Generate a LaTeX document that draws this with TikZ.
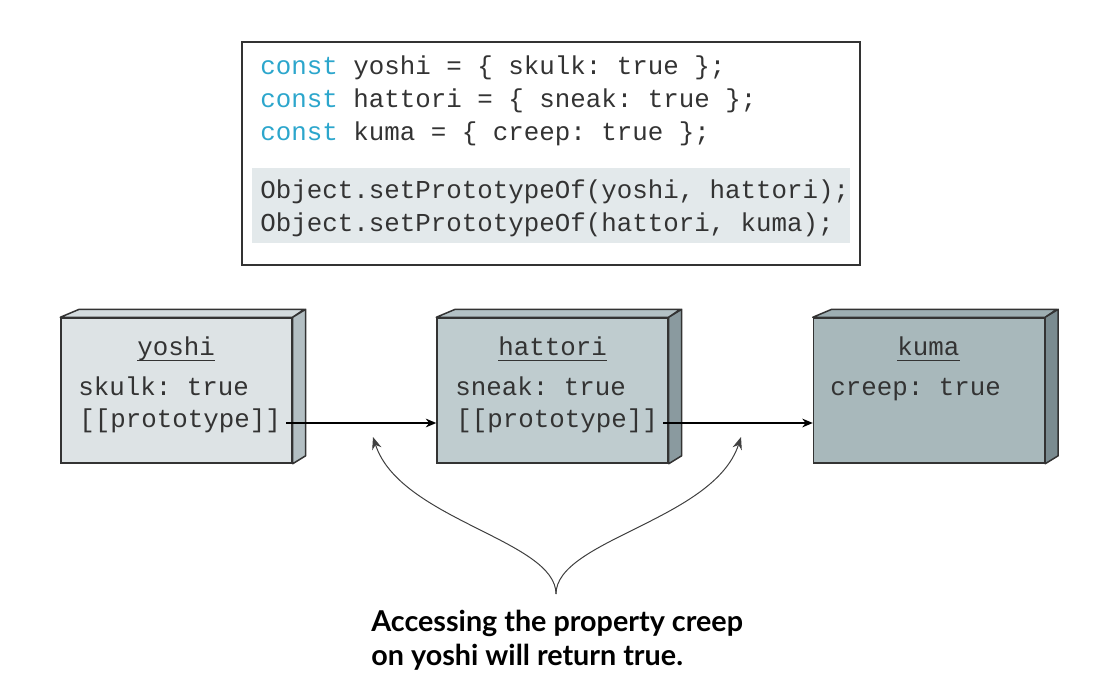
\documentclass[tikz,border=0pt]{standalone}
\usepackage{fontspec}
\setmonofont{Liberation Mono}
\newfontfamily\captionfont{Lato}
\usepackage{xcolor}
\usetikzlibrary{calc,arrows.meta}

\definecolor{keyword}{HTML}{2CA6CC}
\definecolor{codetext}{HTML}{333333}
\definecolor{codeshade}{HTML}{E3E9EB}
\definecolor{yoshifront}{HTML}{DDE3E5}
\definecolor{yoshitop}{HTML}{D3DBDE}
\definecolor{yoshiside}{HTML}{B3BFC3}
\definecolor{hattorifront}{HTML}{BFCCCF}
\definecolor{hattoritop}{HTML}{B3C1C5}
\definecolor{hattoriside}{HTML}{8A9A9F}
\definecolor{kumafront}{HTML}{A8B8BB}
\definecolor{kumatop}{HTML}{9DAEB2}
\definecolor{kumaside}{HTML}{7A8B90}

\tikzset{
  code/.style={anchor=base west, inner sep=0pt, text=codetext, font=\ttfamily\fontsize{14.7}{18}\selectfont},
  front/.style={draw=black!80, line width=.03cm, minimum width=4.62cm, minimum height=2.9cm, inner sep=0pt},
  face/.style={draw=black!80, line width=.03cm, line join=round},
  link/.style={line width=.025cm, -{Stealth[length=6pt,width=5pt]}},
}

\begin{document}
\begin{tikzpicture}[x=0.02cm, y=-0.02cm]

\useasboundingbox (0,0) rectangle (1112,682);

% code listing
\draw[line width=.03cm, black!80] (242,42) rectangle (860,265);
\fill[codeshade] (252,168) rectangle (850,243);

\node[code] (line1) at (260,75) {\textcolor{keyword}{const} yoshi = \{ skulk: true \};};
\node[code] (line2) at (260,108) {\textcolor{keyword}{const} hattori = \{ sneak: true \};};
\node[code] (line3) at (260,141) {\textcolor{keyword}{const} kuma = \{ creep: true \};};
\node[code] (line4) at (260,199) {Object.setPrototypeOf(yoshi, hattori);};
\node[code] (line5) at (260,232) {Object.setPrototypeOf(hattori, kuma);};

% yoshi
\node[front, fill=yoshifront] (yoshi) at (176.5,390.5) {};
\filldraw[face, fill=yoshitop] (yoshi.north west) -- ++(19,-8) -- ++(225,0) -- (yoshi.north east) -- cycle;
\filldraw[face, fill=yoshiside] (yoshi.north east) -- ++(13,-8) -- ([shift={(13,-8)}]yoshi.south east) -- (yoshi.south east) -- cycle;
\node[code] (yoshititle) at (137,355) {yoshi};
\draw[line width=.02cm, codetext] ([yshift=-3]yoshititle.base west) -- ([yshift=-3]yoshititle.base east);
\node[code] (yoshiprop) at (78,395) {skulk: true};
\node[code] (yoshiproto) at (79,427) {[[prototype]]};

% hattori
\node[front, fill=hattorifront] (hattori) at (552.5,390.5) {};
\filldraw[face, fill=hattoritop] (hattori.north west) -- ++(19,-8) -- ++(225,0) -- (hattori.north east) -- cycle;
\filldraw[face, fill=hattoriside] (hattori.north east) -- ++(13,-8) -- ([shift={(13,-8)}]hattori.south east) -- (hattori.south east) -- cycle;
\node[code] (hattorititle) at (498,355) {hattori};
\draw[line width=.02cm, codetext] ([yshift=-3]hattorititle.base west) -- ([yshift=-3]hattorititle.base east);
\node[code] (hattoriprop) at (455,395) {sneak: true};
\node[code] (hattoriproto) at (456,427) {[[prototype]]};

% kuma
\node[front, fill=kumafront] (kuma) at (929,390.5) {};
\filldraw[face, fill=kumatop] (kuma.north west) -- ++(19,-8) -- ++(225,0) -- (kuma.north east) -- cycle;
\filldraw[face, fill=kumaside] (kuma.north east) -- ++(13,-8) -- ([shift={(13,-8)}]kuma.south east) -- (kuma.south east) -- cycle;
\node[code] (kumatitle) at (897,355) {kuma};
\draw[line width=.02cm, codetext] ([yshift=-3]kumatitle.base west) -- ([yshift=-3]kumatitle.base east);
\node[code] (kumaprop) at (830,395) {creep: true};

% prototype links
\draw[link] ([shift={(5,-4)}]yoshiproto.base east) -- ([shift={(0,-4)}]yoshiproto.base -| hattori.west);
\draw[link] ([shift={(5,-4)}]hattoriproto.base east) -- ([shift={(0,-4)}]hattoriproto.base -| kuma.west);

% lookup arrows
\coordinate (tip) at (556,594);
\coordinate (lefthead) at (373,437);
\coordinate (righthead) at (741,437);
\draw[line width=.02cm, black!75, -{Stealth[length=7pt,width=5.5pt]}] (tip) .. controls (556,540) and (400,520) .. (lefthead);
\draw[line width=.02cm, black!75, -{Stealth[length=7pt,width=5.5pt]}] (tip) .. controls (556,540) and (714,520) .. (righthead);

\node[anchor=north west, inner sep=0pt, align=left, font=\captionfont\bfseries\fontsize{16.35}{19.3}\selectfont] (caption) at (371,610)
  {Accessing the property creep\\on yoshi will return true.};

\end{tikzpicture}
\end{document}
